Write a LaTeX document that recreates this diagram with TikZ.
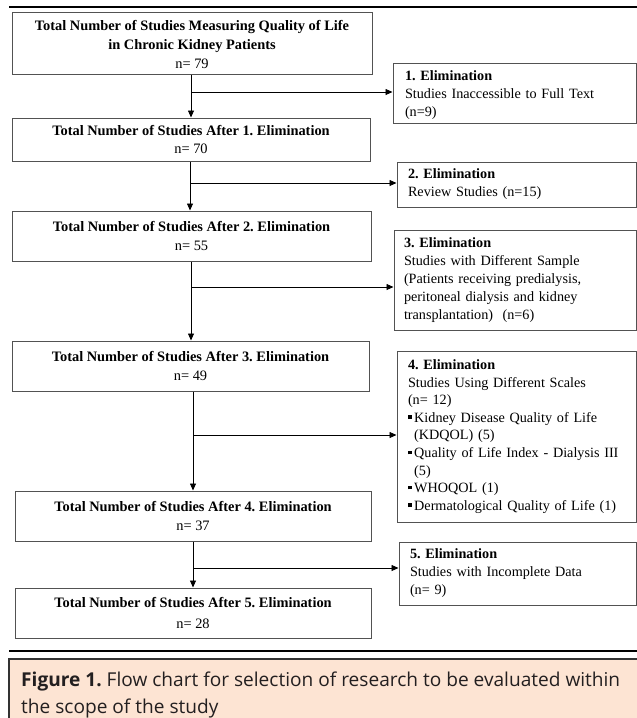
\documentclass[tikz,border=0pt]{standalone}
\usepackage{fontspec}
\setmainfont{Liberation Serif}
\newfontfamily\capfont{Open Sans}
\usetikzlibrary{arrows.meta}
\definecolor{capfill}{HTML}{FDE4D3}
\definecolor{capedge}{HTML}{333333}
\definecolor{captext}{HTML}{231F20}
\newcommand\bsq{\raisebox{3.2pt}{\rule{3.6pt}{3.6pt}}\hspace{2.6pt}}
\newcommand\bsqgap{\hphantom{\bsq}}
\newcommand\topstrut[1]{\rule{0pt}{#1}}
\frenchspacing
\begin{document}
\begin{tikzpicture}[x=1pt,y=-1pt,
  flowbox/.style={draw=black!68, line width=1pt, inner sep=0pt, align=center,
    font=\fontsize{14.4}{18.5}\selectfont},
  elimbox/.style={draw=black!68, line width=1pt, inner xsep=11pt, inner ysep=0pt, align=left,
    font=\fontsize{14.2}{18}\selectfont},
  flowarrow/.style={draw=black, line width=0.8pt, -{Triangle[length=7pt,width=6pt]}}
]
\useasboundingbox (0,0) rectangle (637,718);
% rules
\draw[line width=2pt] (9,7) -- (637,7);
\draw[line width=1.5pt] (9,651) -- (637,651);

% main boxes
\node[flowbox, minimum width=360pt, minimum height=62pt] (B1) at (192,43)
  {\topstrut{13pt}\textbf{Total Number of Studies Measuring Quality of Life}\\[0.5pt] \textbf{in Chronic Kidney Patients}\\ n= 79};
\node[flowbox, minimum width=358pt, minimum height=43pt] (B2) at (191,139.5)
  {\textbf{Total Number of Studies After 1. Elimination}\\ n= 70};
\node[flowbox, minimum width=359pt, minimum height=50pt] (B3) at (191.5,236)
  {\textbf{Total Number of Studies After 2. Elimination}\\ n= 55};
\node[flowbox, minimum width=357pt, minimum height=50pt] (B4) at (190.5,366)
  {\textbf{Total Number of Studies After 3. Elimination}\\ n= 49};
\node[flowbox, minimum width=356pt, minimum height=50pt] (B5) at (193,516)
  {\textbf{Total Number of Studies After 4. Elimination}\\ n= 37};
\node[flowbox, minimum width=356pt, minimum height=50pt] (B6) at (193,613)
  {\textbf{Total Number of Studies After 5. Elimination}\\[2pt] n= 28};

% elimination boxes
\node[elimbox, inner xsep=12pt, minimum width=243pt, minimum height=60pt, text width=219pt] (E1) at (514.5,93)
  {\topstrut{13.8pt}\textbf{1. Elimination}\\ Studies Inaccessible to Full Text\\ (n=9)};
\node[elimbox, minimum width=239pt, minimum height=45pt, text width=217pt] (E2) at (516.5,184.5)
  {\textbf{2. Elimination}\\ Review Studies (n=15)};
\node[elimbox, inner xsep=10pt, minimum width=242pt, minimum height=100pt, text width=222pt] (E3) at (515,280)
  {\textbf{3. Elimination}\\ Studies with Different Sample\\ (Patients receiving predialysis,\\ peritoneal dialysis and kidney\\ transplantation)~ (n=6)};
\node[elimbox, font=\fontsize{14.2}{17.6}\selectfont, minimum width=239pt, minimum height=171pt, text width=217pt] (E4) at (516.5,436.5)
  {\textbf{4. Elimination}\\ Studies Using Different Scales\\ (n= 12)\\
   \bsq Kidney Disease Quality of Life\\
   \bsqgap(KDQOL) (5)\\
   \bsq Quality of Life Index - Dialysis III\\
   \bsqgap(5)\\
   \bsq WHOQOL (1)\\
   \bsq Dermatological Quality of Life (1)};
\node[elimbox, minimum width=237pt, minimum height=63pt, text width=215pt] (E5) at (517.5,573.5)
  {\textbf{5. Elimination}\\ Studies with Incomplete Data\\ (n= 9)};

% branch points on the trunk
\coordinate (J1) at (191,92);
\coordinate (J2) at (190,183);
\coordinate (J3) at (191,287);
\coordinate (J4) at (193,435);
\coordinate (J5) at (193,568);

% trunk connectors
\draw[flowarrow] (J1 |- B1.south) -- (J1 |- B2.north);
\draw[flowarrow] (J2 |- B2.south) -- (J2 |- B3.north);
\draw[flowarrow] (J3 |- B3.south) -- (J3 |- B4.north);
\draw[flowarrow] (J4 |- B4.south) -- (J4 |- B5.north);
\draw[flowarrow] (J5 |- B5.south) -- (J5 |- B6.north);

% branch connectors
\draw[flowarrow] (J1) -- (J1 -| E1.west);
\draw[flowarrow] (J2) -- (J2 -| E2.west);
\draw[flowarrow] (J3) -- (J3 -| E3.west);
\draw[flowarrow] (J4) -- (J4 -| E4.west);
\draw[flowarrow] (J5) -- (J5 -| E5.west);

% caption
\node[fill=capfill, draw=none, minimum width=628pt, minimum height=59pt, inner sep=0pt, anchor=north west] (CAP) at (9,659) {};
\draw[capedge, line width=2.2pt] (CAP.south west) -- (CAP.north west) -- (CAP.north east);
\node[anchor=west, inner sep=0pt, align=left, text=captext,
  font=\capfont\fontsize{19.1}{27}\selectfont] (CAPT) at (21,695)
  {\textbf{Figure 1.} Flow chart for selection of research to be evaluated within\\ the scope of the study};
\end{tikzpicture}
\end{document}
